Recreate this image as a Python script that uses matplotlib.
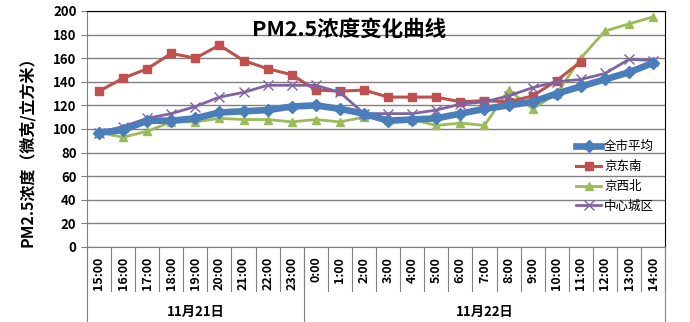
"""
PM2.5浓度变化曲线 — 折线图复刻
"""
import numpy as np
import matplotlib.pyplot as plt
from matplotlib.transforms import blended_transform_factory

plt.rcParams['font.family'] = ['Noto Sans CJK SC', 'DejaVu Sans']

hours = ['15:00', '16:00', '17:00', '18:00', '19:00', '20:00', '21:00', '22:00', '23:00',
         '0:00', '1:00', '2:00', '3:00', '4:00', '5:00', '6:00', '7:00', '8:00', '9:00',
         '10:00', '11:00', '12:00', '13:00', '14:00']
days = ['11月21日', '11月22日']
day_sizes = [9, 15]

city_avg = [97, 99, 107, 107, 109, 114, 115, 116, 119, 120, 117, 113, 107, 108, 109,
            113, 117, 120, 123, 130, 136, 142, 148, 156]
southeast = [132, 143, 151, 164, 160, 171, 158, 151, 146, 133, 132, 133, 127, 127, 127,
             123, 124, 123, 128, 141, 157]
northwest = [97, 93, 98, 106, 106, 109, 108, 108, 106, 108, 106, 110, 108, 108, 103,
             105, 103, 133, 117, 130, 160, 183, 189, 195]
center = [97, 102, 109, 113, 119, 127, 131, 137, 137, 137, 131, 113, 113, 113, 116,
          121, 123, 128, 135, 140, 142, 147, 159, 158]

fig = plt.figure(figsize=(6.9, 3.22), dpi=100)
ax = fig.add_axes([0.126, 0.233, 0.838, 0.733])

x = np.arange(len(hours))
ax.plot(x, city_avg, color='#4a7ebb', lw=4.8, marker='D', ms=6, label='全市平均', zorder=5)
ax.plot(x[:len(southeast)], southeast, color='#c0504d', lw=2.2, marker='s', ms=6,
        label='京东南', zorder=4)
ax.plot(x, northwest, color='#9bbb59', lw=2.0, marker='^', ms=6, label='京西北', zorder=3)
ax.plot(x, center, color='#8064a2', lw=2.0, marker='x', ms=7, mew=1.0, label='中心城区', zorder=4)

ax.set_xlim(-0.5, len(hours) - 0.5)
ax.set_ylim(0, 200)
ax.set_yticks(range(0, 201, 20))
ax.yaxis.grid(True, color='#808080', lw=1)
ax.set_axisbelow(True)
ax.tick_params(axis='y', length=4, color='#808080', labelsize=9.5)
for t in ax.get_yticklabels():
    t.set_fontweight('bold')

ax.set_xticks(x)
ax.set_xticklabels(hours, rotation=90, fontsize=9, fontweight='bold', va='top')
ax.tick_params(axis='x', length=0, pad=7)

for s in ['left', 'bottom']:
    ax.spines[s].set_color('#808080')
for s in ['top', 'right']:
    ax.spines[s].set_color('black')

ax.set_ylabel('PM2.5浓度（微克/立方米）', fontsize=11.5, fontweight='bold', labelpad=8)
ax.yaxis.set_label_coords(-0.09, 0.42)

ax.text(0.453, 0.965, 'PM2.5浓度变化曲线', transform=ax.transAxes, ha='center', va='top',
        fontsize=15.5, fontweight='bold')

# 分类轴分隔线
tr = blended_transform_factory(ax.transData, ax.transAxes)
for b in np.arange(-0.5, len(hours), 1):
    ax.plot([b, b], [0, -0.185], transform=tr, color='#808080', lw=0.8, clip_on=False)
edges = np.concatenate([[0], np.cumsum(day_sizes)]) - 0.5
for b in edges:
    ax.plot([b, b], [0, -0.32], transform=tr, color='#808080', lw=0.8, clip_on=False)
for i, d in enumerate(days):
    mid = (edges[i] + edges[i + 1]) / 2
    ax.text(mid, -0.275, d, transform=tr, ha='center', va='center',
            fontsize=9.5, fontweight='bold')

leg = ax.legend(loc='upper right', bbox_to_anchor=(1.0, 0.5), frameon=False,
                fontsize=9, handlelength=2.0, labelspacing=0.55, handletextpad=0.2)

fig.savefig('out.png', dpi=100)
